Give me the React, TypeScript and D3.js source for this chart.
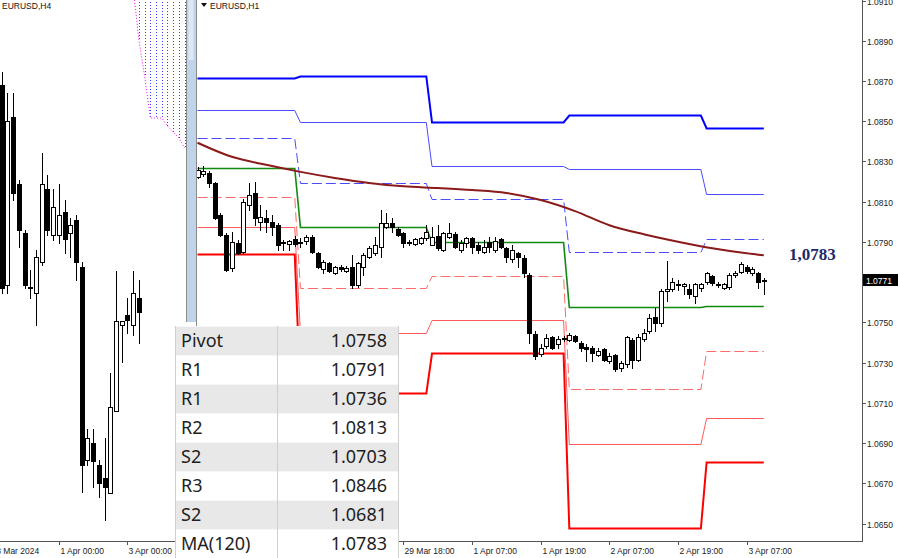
import { useEffect, useRef } from 'react';
import * as d3 from 'd3';

type Candle = [number, number, number, number]; // open, high, low, close

// ---- EURUSD,H4 (left pane) ----
const h4Candles: Candle[] = [
  [1.08288, 1.0832, 1.07768, 1.0778],
  [1.07788, 1.08268, 1.07768, 1.08198],
  [1.08208, 1.08268, 1.08, 1.08018],
  [1.0804, 1.0805, 1.07883, 1.07925],
  [1.07918, 1.07925, 1.0778, 1.07788],
  [1.0778, 1.07825, 1.07755, 1.07783],
  [1.07768, 1.07875, 1.07688, 1.07858],
  [1.07845, 1.08118, 1.07838, 1.0804],
  [1.08028, 1.08063, 1.07913, 1.07925],
  [1.07913, 1.08028, 1.079, 1.07983],
  [1.07913, 1.0804, 1.07893, 1.07963],
  [1.0797, 1.08, 1.07868, 1.07903],
  [1.07918, 1.07955, 1.07858, 1.07938],
  [1.0795, 1.07963, 1.078, 1.07845],
  [1.07833, 1.07845, 1.0727, 1.07338],
  [1.0735, 1.07428, 1.07338, 1.07405],
  [1.07393, 1.07428, 1.07283, 1.07348],
  [1.07338, 1.0735, 1.07258, 1.07293],
  [1.07305, 1.07405, 1.072, 1.07283],
  [1.07268, 1.07568, 1.07268, 1.07483],
  [1.07473, 1.07823, 1.07473, 1.07698],
  [1.07688, 1.07698, 1.07595, 1.07698],
  [1.07713, 1.07755, 1.07668, 1.077],
  [1.07688, 1.07823, 1.07663, 1.07768],
  [1.07755, 1.078, 1.07643, 1.0772],
];
const h4TickIndex = [-2, 10, 22];
const h4TickLabels = ['28 Mar 2024', '1 Apr 00:00', '3 Apr 00:00'];

// shifted cloud (dotted), lower edge by bar index; upper edge is off the pane
const cloudIndex = [23, 24, 25, 26, 27, 28, 29, 30, 31, 32];
const cloudLow = [1.0853, 1.0840, 1.0831, 1.08205, 1.08205, 1.08205, 1.08185, 1.0817, 1.08155, 1.0813];
const cloudHigh = 1.0875;

// ---- EURUSD,H1 (right pane) ----
const h1Candles: Candle[] = [
  [1.08223, 1.08273, 1.08218, 1.08258],
  [1.08238, 1.08278, 1.08228, 1.08253],
  [1.08243, 1.08253, 1.08173, 1.08193],
  [1.08193, 1.08198, 1.08013, 1.08018],
  [1.08033, 1.08043, 1.07928, 1.07933],
  [1.07933, 1.07943, 1.07753, 1.07758],
  [1.07768, 1.07948, 1.07753, 1.07898],
  [1.07893, 1.07908, 1.07838, 1.07843],
  [1.07848, 1.08113, 1.07843, 1.08098],
  [1.08083, 1.08193, 1.08058, 1.08133],
  [1.08143, 1.08198, 1.07983, 1.08018],
  [1.07998, 1.08083, 1.07958, 1.08023],
  [1.08018, 1.08058, 1.07948, 1.07998],
  [1.07998, 1.08033, 1.07933, 1.07973],
  [1.07983, 1.07993, 1.07858, 1.07883],
  [1.07893, 1.07908, 1.07858, 1.07898],
  [1.07888, 1.07908, 1.07858, 1.07903],
  [1.07913, 1.07928, 1.07878, 1.07888],
  [1.07898, 1.07918, 1.07873, 1.07893],
  [1.07903, 1.07933, 1.07888, 1.07923],
  [1.07923, 1.07933, 1.07843, 1.07848],
  [1.07843, 1.07848, 1.07768, 1.07773],
  [1.07763, 1.07808, 1.07743, 1.07798],
  [1.07793, 1.07798, 1.07748, 1.07753],
  [1.07743, 1.07778, 1.07738, 1.07773],
  [1.07773, 1.07783, 1.07753, 1.07763],
  [1.07753, 1.07778, 1.07748, 1.07768],
  [1.07773, 1.07833, 1.07673, 1.07683],
  [1.07683, 1.07798, 1.07678, 1.07793],
  [1.07773, 1.07843, 1.07733, 1.07833],
  [1.07823, 1.07878, 1.07818, 1.07868],
  [1.07843, 1.07923, 1.07833, 1.07883],
  [1.07873, 1.08058, 1.07823, 1.07993],
  [1.07973, 1.08043, 1.07968, 1.07993],
  [1.07993, 1.08018, 1.07948, 1.07973],
  [1.07963, 1.07973, 1.07928, 1.07933],
  [1.07943, 1.07948, 1.07873, 1.07893],
  [1.07893, 1.07908, 1.07883, 1.07898],
  [1.07888, 1.07918, 1.07883, 1.07913],
  [1.07893, 1.07923, 1.07888, 1.07918],
  [1.07918, 1.07983, 1.07908, 1.07948],
  [1.07883, 1.07973, 1.07883, 1.07923],
  [1.07928, 1.07983, 1.07858, 1.07868],
  [1.07858, 1.07948, 1.07853, 1.07943],
  [1.07923, 1.07993, 1.07918, 1.07943],
  [1.07938, 1.07948, 1.07868, 1.07873],
  [1.07858, 1.07908, 1.07848, 1.07893],
  [1.07893, 1.07923, 1.07873, 1.07918],
  [1.07918, 1.07923, 1.07843, 1.07873],
  [1.07883, 1.07898, 1.07843, 1.07858],
  [1.07848, 1.07908, 1.07843, 1.07873],
  [1.07898, 1.07923, 1.07848, 1.07873],
  [1.07858, 1.07923, 1.07848, 1.07903],
  [1.07913, 1.07918, 1.07868, 1.07873],
  [1.07868, 1.07873, 1.07798, 1.07823],
  [1.07813, 1.07883, 1.07798, 1.07858],
  [1.07843, 1.07848, 1.07773, 1.07823],
  [1.07818, 1.07833, 1.07723, 1.07743],
  [1.07733, 1.07743, 1.07398, 1.07443],
  [1.07443, 1.07458, 1.07318, 1.07333],
  [1.07343, 1.07393, 1.07333, 1.07373],
  [1.07383, 1.07443, 1.07373, 1.07423],
  [1.07428, 1.07433, 1.07368, 1.07373],
  [1.07393, 1.07433, 1.07373, 1.07418],
  [1.07418, 1.07433, 1.07408, 1.07423],
  [1.07413, 1.07448, 1.07408, 1.07438],
  [1.07433, 1.07438, 1.07403, 1.07408],
  [1.07398, 1.07408, 1.07358, 1.07373],
  [1.07378, 1.07393, 1.07308, 1.07368],
  [1.07373, 1.07383, 1.07308, 1.07348],
  [1.07338, 1.07373, 1.07333, 1.07358],
  [1.07368, 1.07373, 1.07308, 1.07313],
  [1.07308, 1.07348, 1.07298, 1.07333],
  [1.07338, 1.07343, 1.07258, 1.07268],
  [1.07273, 1.07308, 1.07258, 1.07298],
  [1.07293, 1.07433, 1.07278, 1.07428],
  [1.07413, 1.07423, 1.07273, 1.07313],
  [1.07313, 1.07443, 1.07308, 1.07428],
  [1.07418, 1.07468, 1.07408, 1.07448],
  [1.07458, 1.07543, 1.07448, 1.07523],
  [1.07528, 1.07573, 1.07458, 1.07498],
  [1.07498, 1.07668, 1.07483, 1.07658],
  [1.07658, 1.07803, 1.07608, 1.07668],
  [1.07668, 1.07718, 1.07658, 1.07703],
  [1.07688, 1.07713, 1.07663, 1.07693],
  [1.07683, 1.07698, 1.07643, 1.07693],
  [1.07668, 1.07693, 1.07623, 1.07643],
  [1.07633, 1.07698, 1.07598, 1.07693],
  [1.07673, 1.07698, 1.07658, 1.07693],
  [1.07698, 1.07748, 1.07693, 1.07743],
  [1.07728, 1.07733, 1.07688, 1.07693],
  [1.07693, 1.07703, 1.07678, 1.07688],
  [1.07673, 1.07698, 1.07668, 1.07693],
  [1.07673, 1.07743, 1.07668, 1.07733],
  [1.07733, 1.07753, 1.07723, 1.07743],
  [1.07748, 1.07798, 1.07743, 1.07788],
  [1.07773, 1.07783, 1.07743, 1.07753],
  [1.07743, 1.07773, 1.07733, 1.07763],
  [1.07743, 1.07748, 1.07673, 1.07698],
  [1.07713, 1.07718, 1.07643, 1.07708],
];

// daily pivot levels, one value per day; dayStart = first H1 bar of each day
const dayStart = [0, 18, 41, 65, 89];
const levelR3 = [1.08713, 1.08723, 1.08498, 1.08533, 1.08468];
const levelR2 = [1.08558, 1.08498, 1.08278, 1.08263, 1.08138];
const levelR1 = [1.08418, 1.08193, 1.08113, 1.07848, 1.07913];
const levelPivot = [1.08268, 1.07973, 1.07898, 1.07578, 1.07583];
const levelS1 = [1.08123, 1.07673, 1.07728, 1.07168, 1.07358];
const levelS2 = [1.07973, 1.07448, 1.07513, 1.06893, 1.07023];
const levelS3 = [1.07838, 1.07148, 1.07348, 1.06478, 1.06808];

// MA(120), read at these bar indices
const maIndex = [0, 6, 12, 18, 24, 30, 36, 42, 48, 54, 60, 66, 72, 78, 84, 90, 96, 99];
const maValue = [
  1.08393, 1.08323, 1.08283, 1.08248, 1.08218, 1.08193, 1.08176, 1.08168, 1.08158, 1.08143, 1.08108,
  1.08053, 1.07983, 1.07938, 1.07901, 1.07868, 1.07843, 1.07833,
];

// time labels left of 29 Mar 18:00 sit under the table and are not drawn
const h1TickIndex = [36, 48, 60, 72, 84, 96];
const h1TickLabels = ['29 Mar 18:00', '1 Apr 07:00', '1 Apr 19:00', '2 Apr 07:00', '2 Apr 19:00', '3 Apr 07:00'];
// 1.0770 is covered by the last-price box
const priceTicks = [1.091, 1.089, 1.087, 1.085, 1.083, 1.081, 1.079, 1.075, 1.073, 1.071, 1.069, 1.067, 1.065];
const lastPrice = 1.0771;
const maLabel = '1,0783';

// levels table
const tableLabels = ['Pivot', 'R1', 'R1', 'R2', 'S2', 'R3', 'S2', 'MA(120)'];
const tableValues = [1.0758, 1.0791, 1.0736, 1.0813, 1.0703, 1.0846, 1.0681, 1.0783];

const AXIS_FONT = '"Liberation Sans", Arial, sans-serif';

function drawCandles(
  g: d3.Selection<SVGGElement, unknown, null, undefined>,
  data: Candle[],
  x: (i: number) => number,
  y: d3.ScaleLinear<number, number>
) {
  const c = g
    .selectAll('.candle')
    .data(data)
    .enter()
    .append('g')
    .attr('class', 'candle');

  c.append('line')
    .attr('x1', (_, i) => Math.round(x(i)) + 0.5)
    .attr('x2', (_, i) => Math.round(x(i)) + 0.5)
    .attr('y1', (d) => Math.round(y(d[1])))
    .attr('y2', (d) => Math.round(y(d[2])) + 1)
    .attr('stroke', '#000')
    .attr('stroke-width', 1);

  c.append('rect')
    .attr('x', (_, i) => Math.round(x(i)) - 1.5)
    .attr('y', (d) => Math.round(y(Math.max(d[0], d[3]))) + 0.5)
    .attr('width', 4)
    .attr('height', (d) => Math.max(1, Math.round(Math.abs(y(d[0]) - y(d[3])))))
    .attr('fill', (d) => (d[3] >= d[0] ? '#fff' : '#000'))
    .attr('stroke', '#000')
    .attr('stroke-width', 1);
}

export default function App() {
  const svgRef = useRef<SVGSVGElement>(null);

  useEffect(() => {
    if (!svgRef.current) return;
    const svg = d3.select(svgRef.current);
    svg.selectAll('*').remove();

    const axisY = 541;
    const defs = svg.append('defs');
    defs.append('clipPath').attr('id', 'clip-h4').append('rect').attr('x', 0).attr('y', 0).attr('width', 186).attr('height', axisY);
    defs.append('clipPath').attr('id', 'clip-h1').append('rect').attr('x', 197).attr('y', 0).attr('width', 665).attr('height', axisY);

    svg.append('rect').attr('width', 900).attr('height', 558).attr('fill', '#fff');

    // ---------- left pane (H4) ----------
    const x4 = d3.scaleLinear().domain([0, 24]).range([1.7, 138.9]);
    const y4 = d3.scaleLinear().domain([1.072, 1.085]).range([520, 0]);
    const left = svg.append('g').attr('clip-path', 'url(#clip-h4)');

    // cloud: dotted verticals + dotted lower edge
    left.selectAll('.cloud-bar')
      .data(cloudIndex)
      .enter()
      .append('line')
      .attr('x1', (d) => Math.round(x4(d)) + 0.5)
      .attr('x2', (d) => Math.round(x4(d)) + 0.5)
      .attr('y1', y4(cloudHigh))
      .attr('y2', (_, i) => y4(cloudLow[i]))
      .attr('stroke', '#3b3bff')
      .attr('stroke-width', 1)
      .attr('stroke-dasharray', '1,2');

    const cloudLine = d3
      .line<number>()
      .x((d) => x4(d))
      .y((_, i) => y4(cloudLow[i]));
    left.append('path')
      .datum(cloudIndex)
      .attr('d', cloudLine)
      .attr('fill', 'none')
      .attr('stroke', '#ff00ff')
      .attr('stroke-width', 1)
      .attr('stroke-dasharray', '1,2');

    drawCandles(left, h4Candles, x4, y4);

    left.append('text')
      .attr('x', 2)
      .attr('y', 9)
      .attr('font-family', AXIS_FONT)
      .attr('font-size', '8.5px')
      .attr('fill', '#111')
      .text('EURUSD,H4');

    // bottom axis of left pane
    svg.append('line').attr('x1', 0).attr('x2', 186).attr('y1', axisY + 0.5).attr('y2', axisY + 0.5).attr('stroke', '#555');
    h4TickIndex.forEach((t, i) => {
      const tx = Math.round(x4(t)) + 0.5;
      svg.append('line').attr('x1', tx).attr('x2', tx).attr('y1', axisY).attr('y2', axisY + 4).attr('stroke', '#555');
      svg.append('text')
        .attr('x', tx + 1)
        .attr('y', 554)
        .attr('font-family', AXIS_FONT)
        .attr('font-size', '8.5px')
        .attr('fill', '#222')
        .text(h4TickLabels[i]);
    });

    // separator between panes
    svg.append('rect').attr('x', 186).attr('y', 0).attr('width', 11).attr('height', 322).attr('fill', '#bfd3ea');
    svg.append('rect').attr('x', 188.5).attr('y', 0).attr('width', 5).attr('height', 60).attr('fill', '#dde8f4');
    svg.append('line').attr('x1', 186.5).attr('x2', 186.5).attr('y1', 0).attr('y2', 322).attr('stroke', '#8a8a8a');
    svg.append('line').attr('x1', 196.5).attr('x2', 196.5).attr('y1', 0).attr('y2', axisY).attr('stroke', '#8a8a8a');

    // ---------- right pane (H1) ----------
    const x1 = d3.scaleLinear().domain([0, 99]).range([197.5, 763.8]);
    const y1 = d3.scaleLinear().domain([1.065, 1.091]).range([523.5, 0.5]);
    const right = svg.append('g').attr('clip-path', 'url(#clip-h1)');

    const levelPoints = (vals: number[]) =>
      vals.flatMap((v, d) => {
        const end = d < dayStart.length - 1 ? dayStart[d + 1] - 1 : h1Candles.length - 1;
        return [[dayStart[d], v], [end, v]] as [number, number][];
      });
    const levelLine = d3
      .line<[number, number]>()
      .x((d) => x1(d[0]))
      .y((d) => Math.round(y1(d[1])) + 0.5);

    const levels: { v: number[]; color: string; width: number; dash?: string }[] = [
      { v: levelS2, color: '#ff5a5a', width: 1 },
      { v: levelS1, color: '#ff6a6a', width: 1, dash: '10,4' },
      { v: levelS3, color: '#ff0000', width: 2 },
      { v: levelR2, color: '#4b4bff', width: 1 },
      { v: levelR1, color: '#4b4bff', width: 1, dash: '10,4' },
      { v: levelR3, color: '#0000ff', width: 2 },
      { v: levelPivot, color: '#118a11', width: 1.6 },
    ];
    levels.forEach((l) => {
      right.append('path')
        .datum(levelPoints(l.v))
        .attr('d', levelLine)
        .attr('fill', 'none')
        .attr('stroke', l.color)
        .attr('stroke-width', l.width)
        .attr('stroke-dasharray', l.dash ?? null);
    });

    // MA(120)
    const maLine = d3
      .line<number>()
      .x((d) => x1(d))
      .y((_, i) => y1(maValue[i]))
      .curve(d3.curveMonotoneX);
    right.append('path')
      .datum(maIndex)
      .attr('d', maLine)
      .attr('fill', 'none')
      .attr('stroke', '#8b1a1a')
      .attr('stroke-width', 2);

    drawCandles(right, h1Candles, x1, y1);

    // title
    right.append('path').attr('d', 'M201,3 L207,3 L204,7 Z').attr('fill', '#111');
    right.append('text')
      .attr('x', 210)
      .attr('y', 9)
      .attr('font-family', AXIS_FONT)
      .attr('font-size', '8.5px')
      .attr('fill', '#111')
      .text('EURUSD,H1');

    // MA value label
    svg.append('text')
      .attr('x', 789)
      .attr('y', 260)
      .attr('font-family', '"Liberation Serif", "Times New Roman", serif')
      .attr('font-weight', 'bold')
      .attr('font-size', '17px')
      .attr('fill', '#1c2a66')
      .text(maLabel);

    // price axis
    svg.append('line').attr('x1', 862.5).attr('x2', 862.5).attr('y1', 0).attr('y2', axisY).attr('stroke', '#555');
    svg.append('line').attr('x1', 197).attr('x2', 863).attr('y1', axisY + 0.5).attr('y2', axisY + 0.5).attr('stroke', '#555');
    priceTicks.forEach((p) => {
      const ty = Math.round(y1(p)) + 0.5;
      svg.append('line').attr('x1', 862).attr('x2', 866).attr('y1', ty).attr('y2', ty).attr('stroke', '#555');
      svg.append('text')
        .attr('x', 867)
        .attr('y', ty + 3)
        .attr('font-family', AXIS_FONT)
        .attr('font-size', '8.5px')
        .attr('fill', '#222')
        .text(p.toFixed(4));
    });
    const ly = Math.round(y1(lastPrice));
    svg.append('rect').attr('x', 863).attr('y', ly - 6).attr('width', 35).attr('height', 12).attr('fill', '#000');
    svg.append('text')
      .attr('x', 866)
      .attr('y', ly + 3.5)
      .attr('font-family', AXIS_FONT)
      .attr('font-size', '8.5px')
      .attr('fill', '#fff')
      .text(lastPrice.toFixed(4));

    // time axis (ticks every 12 bars)
    d3.range(0, h1Candles.length, 12).forEach((t) => {
      const tx = Math.round(x1(t)) + 0.5;
      svg.append('line').attr('x1', tx).attr('x2', tx).attr('y1', axisY).attr('y2', axisY + 4).attr('stroke', '#555');
    });
    h1TickIndex.forEach((t, i) => {
      const tx = Math.round(x1(t)) + 0.5;
      svg.append('text')
        .attr('x', tx + 1)
        .attr('y', 554)
        .attr('font-family', AXIS_FONT)
        .attr('font-size', '8.5px')
        .attr('fill', '#222')
        .text(h1TickLabels[i]);
    });

    // ---------- levels table ----------
    const tableX = 175;
    const tableW = 224;
    const rowH = 29;
    const tableTop = 326;
    const colX = 277;
    const table = svg.append('g');
    tableLabels.forEach((lab, i) => {
      const ry = tableTop + i * rowH;
      table.append('rect')
        .attr('x', tableX)
        .attr('y', ry)
        .attr('width', tableW)
        .attr('height', rowH)
        .attr('fill', i % 2 === 0 ? '#e8e8e8' : '#ffffff');
      table.append('line')
        .attr('x1', tableX).attr('x2', tableX + tableW)
        .attr('y1', ry + 0.5).attr('y2', ry + 0.5)
        .attr('stroke', '#f6f6f6');
      table.append('text')
        .attr('x', 181)
        .attr('y', ry + 21)
        .attr('font-family', '"Noto Sans", "Open Sans", sans-serif')
        .attr('font-size', '18px')
        .attr('fill', '#1e1e1e')
        .text(lab);
      table.append('text')
        .attr('x', 387)
        .attr('y', ry + 21)
        .attr('text-anchor', 'end')
        .attr('font-family', '"Noto Sans", "Open Sans", sans-serif')
        .attr('font-size', '18px')
        .attr('fill', '#1e1e1e')
        .text(tableValues[i].toFixed(4));
    });
    table.append('line').attr('x1', colX + 0.5).attr('x2', colX + 0.5).attr('y1', tableTop).attr('y2', 558).attr('stroke', '#cfcfcf');
    table.append('line').attr('x1', tableX + 0.5).attr('x2', tableX + 0.5).attr('y1', tableTop).attr('y2', 558).attr('stroke', '#cfcfcf');
    table.append('line').attr('x1', tableX + tableW - 0.5).attr('x2', tableX + tableW - 0.5).attr('y1', tableTop).attr('y2', 558).attr('stroke', '#cfcfcf');
  }, []);

  return (
    <div style={{ position: 'absolute', left: 0, top: 0 }}>
      <svg ref={svgRef} width={900} height={558} style={{ display: 'block' }} />
    </div>
  );
}
